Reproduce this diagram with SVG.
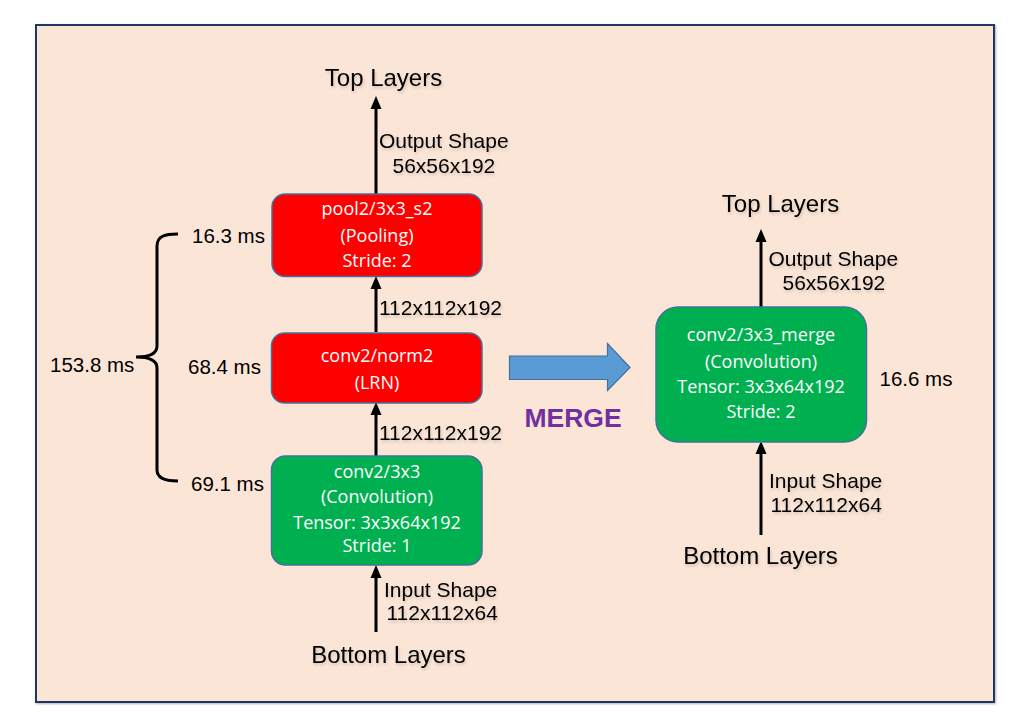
<svg xmlns="http://www.w3.org/2000/svg" width="1034" height="716" viewBox="0 0 1034 716">
  <defs>
    <marker id="ah" markerUnits="userSpaceOnUse" markerWidth="14" markerHeight="12" viewBox="0 0 13 12" refX="9" refY="6" orient="auto">
      <path d="M0,0.5 L13,6 L0,11.5 z" fill="#000"/>
    </marker>
    <filter id="glow" x="-10%" y="-30%" width="120%" height="160%">
      <feGaussianBlur in="SourceAlpha" stdDeviation="1.8" result="b"/>
      <feOffset dx="1" dy="1.5" in="b" result="o"/>
      <feFlood flood-color="#000" flood-opacity="0.16"/>
      <feComposite in2="o" operator="in" result="s"/>
      <feMerge><feMergeNode in="s"/><feMergeNode in="SourceGraphic"/></feMerge>
    </filter>
    <filter id="fs" x="-5%" y="-5%" width="110%" height="110%">
      <feGaussianBlur in="SourceAlpha" stdDeviation="1"/>
      <feOffset dx="1" dy="1" result="o"/>
      <feFlood flood-color="#000" flood-opacity="0.3"/>
      <feComposite in2="o" operator="in" result="s"/>
      <feMerge><feMergeNode in="s"/><feMergeNode in="SourceGraphic"/></feMerge>
    </filter>
  </defs>
  <style>
    .lbl { font-family: "Liberation Sans", Arial, sans-serif; font-size: 21px; fill: #000; }
    .ms { font-family: "Liberation Sans", Arial, sans-serif; font-size: 20.5px; fill: #000; }
    .big { font-family: "Liberation Sans", Arial, sans-serif; font-size: 24px; fill: #000; text-anchor: middle; }
    .nt { font-family: "Open Sans", "Noto Sans", sans-serif; font-size: 18px; fill: #fff; text-anchor: middle; }
    .red { fill: #FF0000; stroke: #41719C; stroke-width: 1.5; }
    .grn { fill: #00B050; stroke: #41719C; stroke-width: 1.5; }
    .conn line { stroke: #000; stroke-width: 3; marker-end: url(#ah); }
  </style>
  <rect x="0" y="0" width="1034" height="716" fill="#fff"/>
  <rect id="frame" x="36" y="25" width="958" height="677" fill="#FBE5D6" stroke="#1F3864" stroke-width="2" filter="url(#fs)"/>

  <g id="conn" class="conn">
    <line x1="376" y1="194" x2="376" y2="100"/>
    <line x1="376" y1="332" x2="376" y2="280"/>
    <line x1="376" y1="456" x2="376" y2="406"/>
    <line x1="376" y1="632" x2="376" y2="569"/>
    <line x1="761" y1="307" x2="761" y2="233"/>
    <line x1="761" y1="535" x2="761" y2="445"/>
  </g>

  <g id="labels" filter="url(#glow)">
    <text class="big" x="383.5" y="86">Top Layers</text>
    <text class="lbl" x="379" y="148">Output Shape</text>
    <text class="lbl" x="392.5" y="173">56x56x192</text>
    <text class="lbl" x="379" y="315">112x112x192</text>
    <text class="lbl" x="379" y="440">112x112x192</text>
    <text class="lbl" x="384" y="597">Input Shape</text>
    <text class="lbl" x="386.5" y="620">112x112x64</text>
    <text class="big" x="388.5" y="663">Bottom Layers</text>
    <text class="big" x="780.5" y="212">Top Layers</text>
    <text class="lbl" x="768.5" y="266">Output Shape</text>
    <text class="lbl" x="782.5" y="289.5">56x56x192</text>
    <text class="lbl" x="769" y="487.5">Input Shape</text>
    <text class="lbl" x="770.5" y="511.5">112x112x64</text>
    <text class="big" x="760.5" y="564">Bottom Layers</text>
  </g>

  <g id="node-pool">
    <rect class="red" x="272" y="194" width="210" height="82.5" rx="13"/>
    <text class="nt" x="377" y="215">pool2/3x3_s2</text>
    <text class="nt" x="377" y="241.5">(Pooling)</text>
    <text class="nt" x="377" y="266.5">Stride: 2</text>
  </g>
  <g id="node-norm">
    <rect class="red" x="271.5" y="333" width="210.5" height="70" rx="13"/>
    <text class="nt" x="377" y="361.5">conv2/norm2</text>
    <text class="nt" x="377" y="389">(LRN)</text>
  </g>
  <g id="node-conv">
    <rect class="grn" x="271.5" y="456" width="210.5" height="109" rx="14"/>
    <text class="nt" x="377" y="477.5">conv2/3x3</text>
    <text class="nt" x="377" y="503">(Convolution)</text>
    <text class="nt" x="377" y="528.5">Tensor: 3x3x64x192</text>
    <text class="nt" x="377" y="552">Stride: 1</text>
  </g>
  <g id="node-merge">
    <rect class="grn" x="656" y="307" width="210.5" height="135" rx="22"/>
    <text class="nt" x="761" y="341">conv2/3x3_merge</text>
    <text class="nt" x="761" y="367.5">(Convolution)</text>
    <text class="nt" x="761" y="393">Tensor: 3x3x64x192</text>
    <text class="nt" x="761" y="417.5">Stride: 2</text>
  </g>

  <g id="timings">
    <text class="ms" x="192" y="243">16.3 ms</text>
    <text class="ms" x="188" y="374">68.4 ms</text>
    <text class="ms" x="191" y="491">69.1 ms</text>
    <text class="ms" x="50" y="372">153.8 ms</text>
    <text class="ms" x="879.5" y="386">16.6 ms</text>
    <path d="M178,234 C165,234 157,236 157,246 L157,346 C157,353 150,357 136,357 C150,357 157,361 157,368 L157,470 C157,478 165,481 178,481" fill="none" stroke="#000" stroke-width="3"/>
  </g>

  <g id="merge-arrow">
    <path d="M509.5,356 L607.5,356 L607.5,343.5 L630,367.5 L607.5,390.5 L607.5,379.5 L509.5,379.5 z" fill="#5B9BD5" stroke="#41719C" stroke-width="1.2"/>
    <text x="573" y="427" font-family="Liberation Sans, Arial, sans-serif" font-size="26.5" font-weight="bold" fill="#7030A0" text-anchor="middle">MERGE</text>
  </g>
</svg>
